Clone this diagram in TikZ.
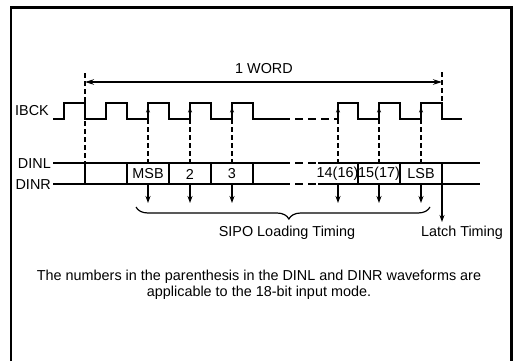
\documentclass[tikz,border=0pt]{standalone}
\usepackage{fontspec}
\setmainfont{Liberation Sans}
\usetikzlibrary{arrows.meta,decorations.pathreplacing}
\begin{document}
\begin{tikzpicture}[x=1pt,y=-1pt,
  frame/.style={line width=2.2pt},
  wave/.style={line width=1.6pt, line join=miter},
  guide/.style={line width=1.1pt, dash pattern=on 5pt off 3pt},
  sig/.style={line width=1.1pt,-{Stealth[length=7pt,width=5pt]}},
  edgetip/.style={line width=1.1pt,-{Stealth[length=5.5pt,width=4pt]}},
  lbl/.style={font=\fontsize{14.4}{16}\selectfont, inner sep=0pt},
]
\useasboundingbox (0,0) rectangle (516,361);
% frame (open at bottom)
\draw[frame] (11,361) -- (11,7.5) -- (511.5,7.5) -- (511.5,361);

% labels
\node[lbl] (word) at (264,69) {1 WORD};
\node[lbl,anchor=east] (ibck) at (49,111) {IBCK};
\node[lbl,anchor=east] (dinl) at (51,164) {DINL};
\node[lbl,anchor=east] (dinr) at (51,185) {DINR};

% IBCK waveform
\draw[wave] (53,119) -- (64,119) -- (64,103) -- (85,103) -- (85,119) -- (106,119) -- (106,103)
  -- (127,103) -- (127,119) -- (148,119) -- (148,103) -- (169,103) -- (169,119) -- (190,119)
  -- (190,103) -- (211,103) -- (211,119) -- (232,119) -- (232,103) -- (253,103) -- (253,119)
  -- (282,119);
\draw[wave,dash pattern=on 8pt off 5pt] (282,119) -- (338,119);
\draw[wave] (338,119) -- (338,103) -- (358,103) -- (358,119) -- (379,119) -- (379,103)
  -- (400,103) -- (400,119) -- (421,119) -- (421,103) -- (442,103) -- (442,119) -- (462,119);
% arrowheads on rising edges
\foreach \x in {148,190,232,338,379,421}
  \draw[edgetip] (\x,119) -- (\x,107);

% DINL / DINR bus
\foreach \y in {163,184} {
  \draw[wave] (53,\y) -- (282,\y);
  \draw[wave,dash pattern=on 8pt off 5pt] (282,\y) -- (318,\y);
  \draw[wave] (318,\y) -- (480,\y);
}
\foreach \x in {85,127,169,211,253,358,400}
  \draw[wave] (\x,163) -- (\x,184);

% cell labels
\foreach \x/\t [count=\i] in {148/MSB,190/2,232/3,337.5/{14(16)},379/{15(17)},421/LSB}
  \node[lbl] (cell\i) at (\x,174) {\t};

% guides
\coordinate (wl) at (85,82);
\coordinate (wr) at (442,82);
\draw[guide] (85,73) -- (85,163);
\draw[guide] (442,72) -- (442,103);
\foreach \x in {148,190,232,338,379,421}
  \draw[guide] (\x,119) -- (\x,163);
\draw[line width=1.3pt,{Stealth[length=9pt,width=5.5pt]}-{Stealth[length=9pt,width=5.5pt]}] (wl) -- (wr);

% SIPO loading arrows
\foreach \x [count=\i] in {148,190,232,338,379,421} {
  \coordinate (s\i) at (\x,184);
  \coordinate (e\i) at (\x,203);
  \draw[sig] (s\i) -- (e\i);
}
% latch arrow
\coordinate (ls) at (442,163);
\coordinate (le) at (442,222);
\draw[sig] (ls) -- (le);

% brace
\draw[line width=1.2pt,decorate,decoration={brace,mirror,amplitude=12pt,aspect=0.52}] (136,207) -- (430,207);

\node[lbl] (sipo) at (287,233) {SIPO Loading Timing};
\node[lbl] (latch) at (462,233) {Latch Timing};

\node[lbl,align=center] (note) at (259,285) {The numbers in the parenthesis in the DINL and DINR waveforms are\\applicable to the 18-bit input mode.};
\end{tikzpicture}
\end{document}
